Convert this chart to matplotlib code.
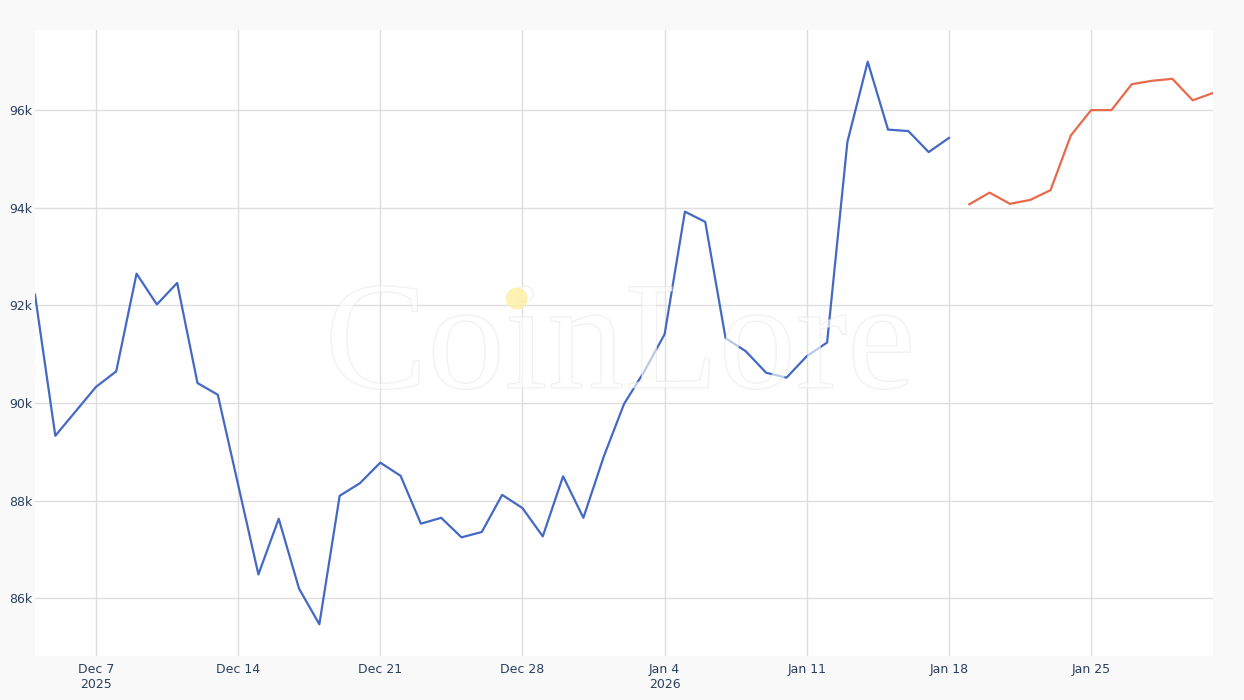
import matplotlib.pyplot as plt
import matplotlib.patheffects as pe
from matplotlib.patches import Ellipse
import pandas as pd

# BTC price history (blue) and forecast (orange), in USD
hist_start = '2025-12-04'
hist_prices = [92220, 89330, 89830, 90330, 90650, 92650, 92020, 92460, 90410,
               90170, 88330, 86490, 87630, 86200, 85470, 88100, 88360, 88780,
               88510, 87530, 87650, 87250, 87360, 88120, 87850, 87270, 88500,
               87650, 88900, 89980, 90650, 91410, 93920, 93710, 91330, 91060,
               90620, 90520, 90960, 91240, 95350, 96990, 95600, 95570, 95140,
               95430]

fc_start = '2026-01-19'
fc_prices = [94070, 94310, 94080, 94160, 94360, 95480, 96000, 96000, 96530,
             96600, 96640, 96200, 96350]

yticks = [86000, 88000, 90000, 92000, 94000, 96000]
ytick_labels = ['86k', '88k', '90k', '92k', '94k', '96k']
xticks = ['2025-12-07', '2025-12-14', '2025-12-21', '2025-12-28', '2026-01-04',
          '2026-01-11', '2026-01-18', '2026-01-25']
xtick_labels = ['Dec 7\n2025', 'Dec 14', 'Dec 21', 'Dec 28', 'Jan 4\n2026',
                'Jan 11', 'Jan 18', 'Jan 25']

hist_dates = pd.date_range(hist_start, periods=len(hist_prices), freq='D')
fc_dates = pd.date_range(fc_start, periods=len(fc_prices), freq='D')

fig = plt.figure(figsize=(12.44, 7), dpi=100, facecolor='#f9f9f9')
ax = fig.add_axes([35 / 1244, 44 / 700, 1178 / 1244, 626 / 700])
ax.set_facecolor('white')

ax.plot(hist_dates, hist_prices, color='#4469c4', lw=1.6, zorder=3)
ax.plot(fc_dates, fc_prices, color='#e66a4b', lw=1.6, zorder=3)

ax.set_xlim(pd.Timestamp('2025-12-04'), pd.Timestamp('2026-01-31'))
ax.set_ylim(84820, 97640)

ax.set_yticks(yticks)
ax.set_yticklabels(ytick_labels)
ax.set_xticks(pd.to_datetime(xticks))
ax.set_xticklabels(xtick_labels)

ax.grid(True, color='#dedede', lw=1.0, zorder=0)
ax.set_axisbelow(True)
for sp in ax.spines.values():
    sp.set_visible(False)
ax.tick_params(length=0, colors='#2a3f5f', labelsize=9)
ax.tick_params(axis='y', pad=2)
ax.tick_params(axis='x', pad=5)

# watermark
wm = ax.text(0.4966, 0.488, 'CoinLore', transform=ax.transAxes,
             ha='center', va='center', fontsize=111, family='Liberation Serif',
             color='white', alpha=0.28, zorder=4)
wm.set_path_effects([pe.withStroke(linewidth=1.0, foreground='#e2e2e2', alpha=0.5)])
ax.add_patch(Ellipse((0.409, 0.571), 22 / 1178, 22 / 626, transform=ax.transAxes,
                     color='#fdf0a6', alpha=0.85, zorder=5, lw=0))

fig.savefig('out.png', dpi=100, facecolor=fig.get_facecolor())
